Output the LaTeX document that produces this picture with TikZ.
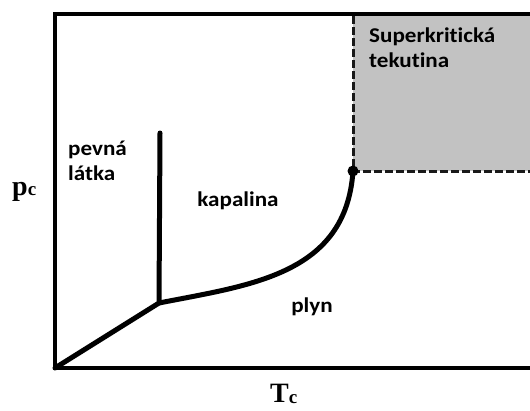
\documentclass[tikz,border=0pt]{standalone}
\usepackage{fontspec}
\setmainfont{Liberation Serif}
\newfontfamily\lblfont[Ligatures=NoCommon]{Carlito}
\newcommand{\widetext}[1]{\scalebox{1.1}[1]{#1}}
\begin{document}
\begin{tikzpicture}[x=1pt,y=-1pt,
  frameline/.style={line width=3.5pt,line cap=round},
  phaseline/.style={line width=5pt,line cap=round,line join=round},
  region/.style={font=\lblfont\bfseries\fontsize{21}{25}\selectfont,inner sep=0pt,align=left,text=black},
  axislbl/.style={font=\bfseries\fontsize{28}{30}\selectfont,inner sep=0pt},
  critline/.style={draw=black!90,line width=3pt,dash pattern=on 7.5pt off 3.5pt}]
\useasboundingbox (0,0) rectangle (530,410);
\coordinate (O) at (55,368);
\coordinate (TL) at (55,14);
\coordinate (TR) at (530,14);
\coordinate (BR) at (530,368);
\coordinate (T) at (159,303);
\coordinate (Ttop) at (160,133);
\coordinate (C) at (353,171);
\coordinate (CT) at (353,16);
\coordinate (CR) at (530,171);
% supercritical region
\fill[fill={rgb,255:red,194;green,194;blue,194}] (CT) rectangle (CR);
\draw[critline] (CT) -- (C) -- (CR);
% frame
\draw[frameline] (TR) -- (TL) -- (O) -- (BR);
% phase lines
\draw[phaseline] (O) -- (T) -- (Ttop);
\draw[phaseline] (T) .. controls (250,285) and (346,275) .. (C);
\fill (C) circle (5.5pt);
% labels
\node[region,anchor=base west] (solid) at (68,180) {\widetext{pevná}\\\widetext{látka}};
\node[region,anchor=base] (liquid) at (238,206) {\widetext{kapalina}};
\node[region,anchor=base] (gas) at (312,312) {\widetext{plyn}};
\node[region,anchor=base west] (scf) at (369,67) {\widetext{Superkritická}\\\widetext{tekutina}};
\node[axislbl,anchor=base west] (p) at (12,195) {p\raisebox{0pt}{\fontsize{19}{20}\selectfont c}};
\node[axislbl,anchor=base west] (t) at (270,402) {T\raisebox{-1pt}{\fontsize{19}{20}\selectfont c}};
\end{tikzpicture}
\end{document}
